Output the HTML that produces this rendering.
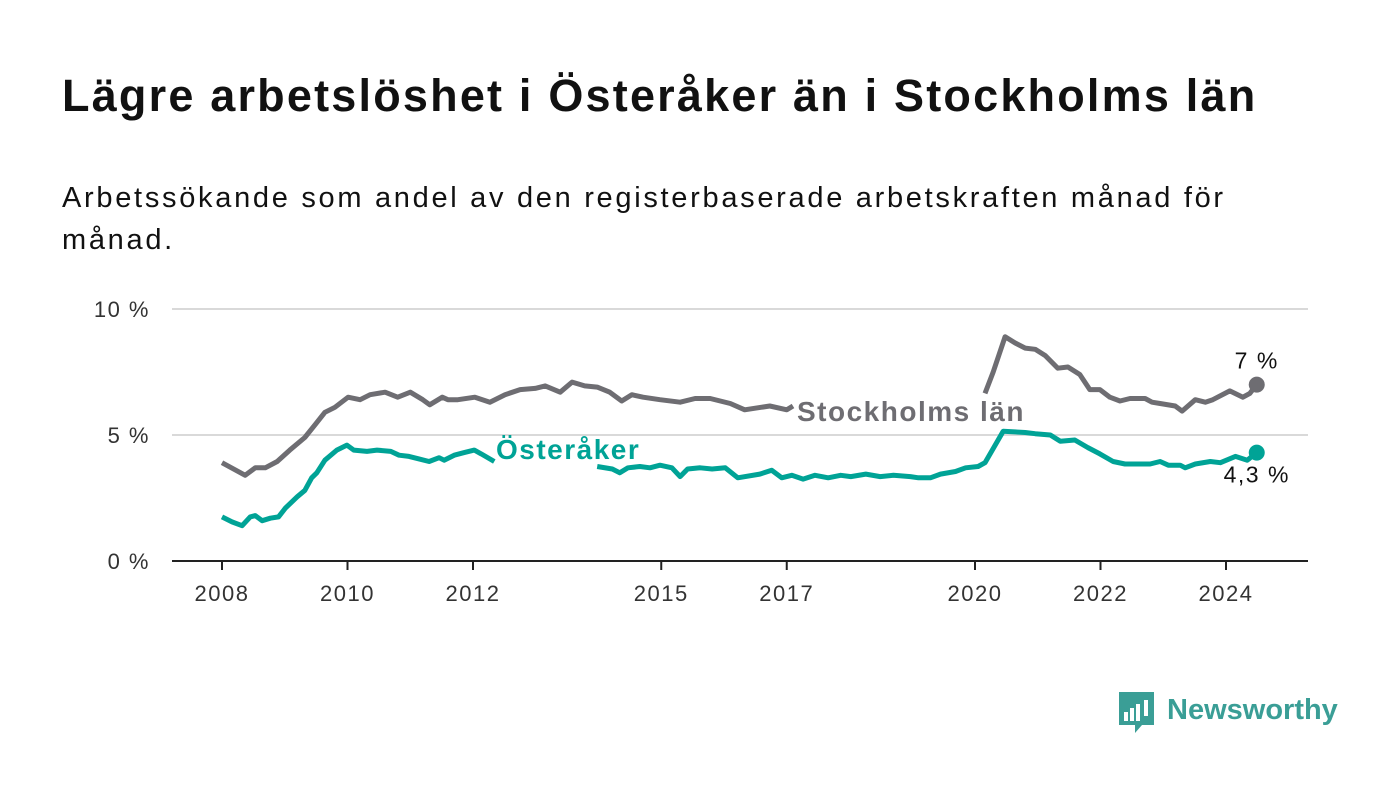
<!DOCTYPE html>
<html><head><meta charset="utf-8"><style>
body{margin:0;background:#fff;width:1400px;height:794px;overflow:hidden;font-family:"Liberation Sans",sans-serif}
#t{position:absolute;left:62px;top:70px;font-size:45px;letter-spacing:2.2px;font-weight:bold;color:#111;margin:0;white-space:nowrap}
#s{position:absolute;left:62px;top:177px;font-size:29px;letter-spacing:2.7px;line-height:42px;color:#111;width:1200px;margin:0}
svg{position:absolute;left:0;top:0}
</style></head><body>
<h1 id="t">Lägre arbetslöshet i Österåker än i Stockholms län</h1>
<p id="s">Arbetssökande som andel av den registerbaserade arbetskraften månad för månad.</p>
<svg id="c" width="1400" height="794"></svg>
<script>
const yearTicks=[2008,2010,2012,2015,2017,2020,2022,2024];
const valueTicks=[0,5,10];
const sthlmDates=[2008.00,2008.37,2008.53,2008.69,2008.88,2009.08,2009.32,2009.48,2009.64,2009.80,2010.01,2010.20,2010.36,2010.60,2010.80,2011.00,2011.20,2011.31,2011.51,2011.60,2011.76,2012.03,2012.27,2012.51,2012.75,2012.99,2013.15,2013.39,2013.58,2013.78,2013.98,2014.18,2014.37,2014.53,2014.71,2014.98,2015.30,2015.54,2015.78,2016.10,2016.33,2016.73,2017.00,2017.10,2018.5,2020.16,2020.29,2020.48,2020.64,2020.80,2020.96,2021.12,2021.32,2021.48,2021.67,2021.83,2021.99,2022.15,2022.31,2022.47,2022.71,2022.82,2022.95,2023.19,2023.30,2023.51,2023.67,2023.79,2024.06,2024.27,2024.38,2024.49];
const sthlmValues=[3.9,3.4,3.7,3.7,3.95,4.4,4.9,5.4,5.9,6.1,6.5,6.4,6.6,6.7,6.5,6.7,6.4,6.2,6.5,6.4,6.4,6.5,6.3,6.6,6.8,6.85,6.95,6.7,7.1,6.95,6.9,6.7,6.35,6.6,6.5,6.4,6.3,6.45,6.45,6.25,6.0,6.15,6.0,6.15,null,6.65,7.5,8.9,8.65,8.45,8.4,8.15,7.65,7.7,7.4,6.8,6.8,6.5,6.35,6.45,6.45,6.3,6.25,6.15,5.95,6.4,6.3,6.4,6.75,6.5,6.65,7.0];
const ostDates=[2008.00,2008.16,2008.32,2008.45,2008.53,2008.64,2008.77,2008.90,2009.01,2009.20,2009.32,2009.43,2009.51,2009.64,2009.83,2009.99,2010.10,2010.31,2010.47,2010.69,2010.82,2010.98,2011.14,2011.30,2011.46,2011.54,2011.70,2011.86,2012.02,2012.13,2012.34,2013.0,2013.98,2014.22,2014.34,2014.47,2014.66,2014.82,2014.98,2015.17,2015.30,2015.42,2015.62,2015.81,2016.02,2016.22,2016.57,2016.76,2016.92,2017.08,2017.26,2017.45,2017.66,2017.86,2018.02,2018.26,2018.49,2018.70,2018.97,2019.10,2019.29,2019.45,2019.69,2019.85,2020.05,2020.16,2020.45,2020.80,2020.96,2021.20,2021.36,2021.59,2021.80,2021.99,2022.20,2022.39,2022.79,2022.95,2023.08,2023.27,2023.35,2023.51,2023.75,2023.91,2024.15,2024.34,2024.49];
const ostValues=[1.75,1.55,1.4,1.75,1.8,1.6,1.7,1.75,2.1,2.55,2.8,3.3,3.5,4.0,4.4,4.6,4.4,4.35,4.4,4.35,4.2,4.15,4.05,3.95,4.1,4.0,4.2,4.3,4.4,4.25,3.95,null,3.75,3.65,3.5,3.7,3.75,3.7,3.8,3.7,3.35,3.65,3.7,3.65,3.7,3.3,3.45,3.6,3.3,3.4,3.25,3.4,3.3,3.4,3.35,3.45,3.35,3.4,3.35,3.3,3.3,3.45,3.55,3.7,3.75,3.9,5.15,5.1,5.05,5.0,4.75,4.8,4.5,4.25,3.95,3.85,3.85,3.95,3.8,3.8,3.7,3.85,3.95,3.9,4.15,4.0,4.3];
const NS="http://www.w3.org/2000/svg",svg=document.getElementById('c');
const X=y=>222+(y-2008)*62.75, Y=v=>561-v*25.2;
function mk(tag,at,parent){const e=document.createElementNS(NS,tag);for(const k in at)e.setAttribute(k,at[k]);(parent||svg).appendChild(e);return e;}
valueTicks.forEach(v=>{
 if(v>0){const g=mk('line',{x1:172,x2:1308,y1:Y(v),y2:Y(v),stroke:'#d9d9d9','stroke-width':2});
 
 }
 const t=mk('text',{x:150,y:Y(v)+8,'text-anchor':'end','font-size':22,'letter-spacing':1.5,fill:'#333'});t.textContent=v+' %';
 
 
});
const ax=mk('line',{x1:172,x2:1308,y1:561,y2:561,stroke:'#222','stroke-width':2});


yearTicks.forEach(y=>{
 const l=mk('line',{x1:X(y),x2:X(y),y1:561,y2:570,stroke:'#222','stroke-width':2});
 
 
 const t=mk('text',{x:X(y),y:601,'text-anchor':'middle','font-size':22,'letter-spacing':1.5,fill:'#333'});t.textContent=y;
 
 
});
function path(d,v){let s='',pen=false;d.forEach((x,i)=>{if(v[i]==null){pen=false;return;}s+=(pen?'L':'M')+X(x).toFixed(1)+','+Y(v[i]).toFixed(1);pen=true;});return s;}
const p1=mk('path',{d:path(sthlmDates,sthlmValues),fill:'none',stroke:'#6e6d72','stroke-width':5,'stroke-linejoin':'round'});


const p2=mk('path',{d:path(ostDates,ostValues),fill:'none',stroke:'#00a396','stroke-width':5,'stroke-linejoin':'round'});


const n1=sthlmDates.length-1,n2=ostDates.length-1;
const d1=mk('circle',{cx:X(sthlmDates[n1]),cy:Y(sthlmValues[n1]),r:8,fill:'#6e6d72'});


const d2=mk('circle',{cx:X(ostDates[n2]),cy:Y(ostValues[n2]),r:8,fill:'#00a396'});


const e1=mk('text',{x:X(sthlmDates[n1]),y:Y(sthlmValues[n1])-16,'text-anchor':'middle','font-size':23,'letter-spacing':1.5,fill:'#111'});e1.textContent='7 %';


const e2=mk('text',{x:X(ostDates[n2]),y:Y(ostValues[n2])+30,'text-anchor':'middle','font-size':23,'letter-spacing':1.5,fill:'#111'});e2.textContent='4,3 %';


const l1=mk('text',{x:797,y:421,'font-size':28,'letter-spacing':1.5,'font-weight':'bold',fill:'#6e6d72'});l1.textContent='Stockholms län';


const l2=mk('text',{x:496,y:459,'font-size':28,'letter-spacing':1.5,'font-weight':'bold',fill:'#00a396'});l2.textContent='Österåker';


const lg=mk('g',{});


mk('path',{d:'M1119,692h35v33h-12l-7,8v-8h-16z',fill:'#3a9e96'},lg);
[[1124,712,4,9],[1130,708,4,13],[1136,704,4,17],[1144,700,4,16]].forEach(r=>mk('rect',{x:r[0],y:r[1],width:r[2],height:r[3],fill:'#fff'},lg));
const lt=mk('text',{x:1167,y:719,'font-size':29,'font-weight':'bold',fill:'#3a9e96'},lg);lt.textContent='Newsworthy';
</script>
</body></html>
